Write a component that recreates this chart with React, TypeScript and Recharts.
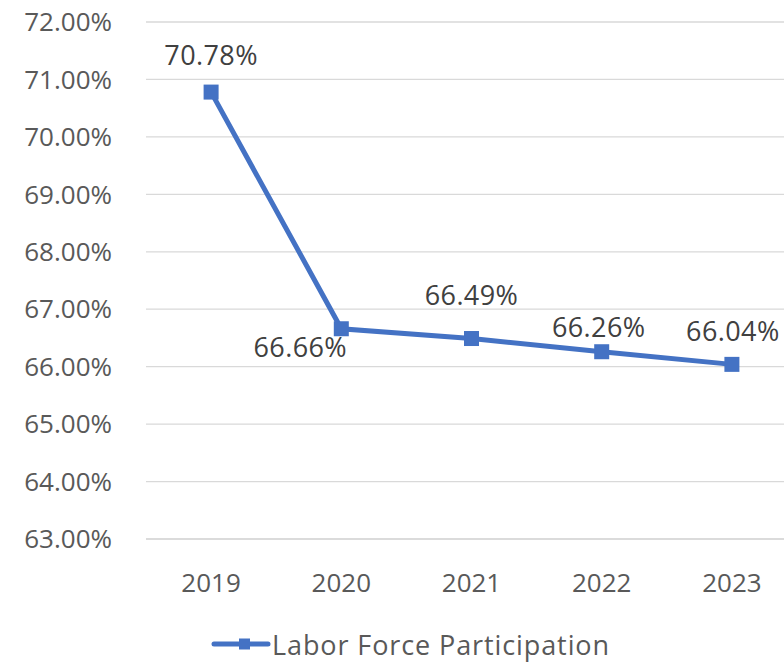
import { CartesianGrid, Line, LineChart, XAxis, YAxis } from "recharts";

const years = ["2019", "2020", "2021", "2022", "2023"];
const participation = [70.78, 66.66, 66.49, 66.26, 66.04];
const yTicks = [63, 64, 65, 66, 67, 68, 69, 70, 71, 72];

const data = years.map((year, i) => ({ year, value: participation[i] }));

const BLUE = "#4472C4";
const TEXT = "#595959";
const FONT = "'Open Sans', 'Noto Sans', sans-serif";

// label nudges (Excel moved some by hand)
const labelShift = [
  [0, -38],
  [-41, 18],
  [0, -44],
  [-3, -25],
  [1, -34],
];

function SquareDot(props: any) {
  const { cx, cy } = props;
  if (cx == null || cy == null) return null;
  return <rect x={cx - 7.5} y={cy - 7.5} width={15} height={15} fill={BLUE} />;
}

function PointLabel(props: any) {
  const { x, y, value, index } = props;
  const [dx, dy] = labelShift[index] ?? [0, -30];
  return (
    <text
      x={x + dx}
      y={y + dy}
      textAnchor="middle"
      dominantBaseline="central"
      fill="#404040"
      fontSize={27}
      letterSpacing={0.4}
      fontFamily={FONT}
    >
      {value.toFixed(2)}%
    </text>
  );
}

export default function App() {
  return (
    <div
      style={{
        position: "absolute",
        top: 0,
        left: 0,
        width: 784,
        height: 662,
        overflow: "hidden",
        background: "#fff",
      }}
    >
      <LineChart width={800} height={662} data={data} margin={{ top: 22, right: 3, bottom: 43, left: 0 }}>
        <CartesianGrid horizontal vertical={false} stroke="#d9d9d9" strokeWidth={1.3} />
        <XAxis
          dataKey="year"
          scale="band"
          axisLine={{ stroke: "#d9d9d9", strokeWidth: 1.3 }}
          tickLine={false}
          tickSize={0}
          tickMargin={35}
          tick={{ fill: TEXT, fontSize: 26, fontFamily: FONT }}
          height={80}
        />
        <YAxis
          domain={[63, 72]}
          ticks={yTicks}
          interval={0}
          width={146}
          axisLine={false}
          tickLine={false}
          tickSize={0}
          tickMargin={34}
          tick={{ fill: TEXT, fontSize: 26, fontFamily: FONT }}
          tickFormatter={(v: number) => `${v.toFixed(2)}%`}
        />
        <Line
          type="linear"
          dataKey="value"
          name="Labor Force Participation"
          stroke={BLUE}
          strokeWidth={5}
          dot={<SquareDot />}
          activeDot={false}
          label={<PointLabel />}
          isAnimationActive={false}
        />
        {/* legend drawn inside the svg */}
        <g>
          <line x1={214} y1={644} x2={268} y2={644} stroke={BLUE} strokeWidth={5} strokeLinecap="round" />
          <rect x={239} y={638.5} width={11} height={11} fill={BLUE} />
          <text
            x={272}
            y={644}
            dominantBaseline="central"
            fill={TEXT}
            fontSize={27}
            letterSpacing={0.9}
            fontFamily={FONT}
          >
            Labor Force Participation
          </text>
        </g>
      </LineChart>
    </div>
  );
}
